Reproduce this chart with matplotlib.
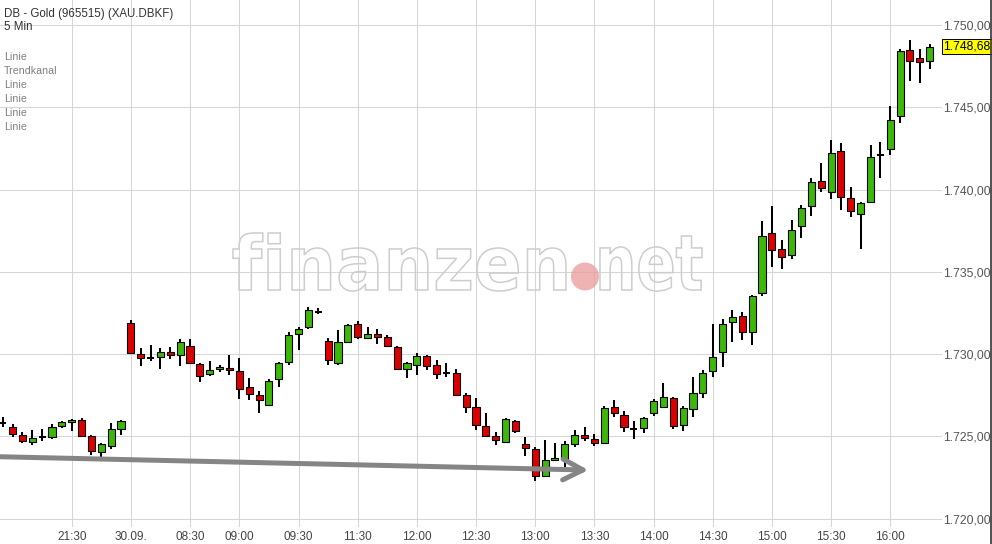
import numpy as np
import matplotlib
matplotlib.use("Agg")
import matplotlib.pyplot as plt
from matplotlib.ticker import MultipleLocator, FuncFormatter
from matplotlib.textpath import TextPath
from matplotlib.font_manager import FontProperties
from matplotlib.patches import PathPatch, Circle
from matplotlib.transforms import Affine2D, IdentityTransform, blended_transform_factory

plt.rcParams['font.family'] = ['Liberation Sans', 'DejaVu Sans']

# Kerzen (5 Min)
opens = [1725.79, 1725.55, 1725.06, 1724.63, 1724.98, 1724.94, 1725.64, 1725.85, 1725.99, 1725.00,
         1724.03, 1724.39, 1725.43, 1731.89, 1730.00, 1729.78, 1729.80, 1730.11, 1729.92, 1730.47,
         1729.38, 1728.77, 1729.07, 1729.13, 1728.95, 1727.98, 1727.49, 1726.92, 1728.47, 1729.50,
         1731.20, 1731.63, 1732.56, 1730.78, 1729.44, 1730.73, 1731.81, 1730.96, 1731.20, 1731.02,
         1730.41, 1729.07, 1729.32, 1729.86, 1729.32, 1728.83, 1728.83, 1727.49, 1726.76, 1725.64,
         1725.00, 1724.67, 1725.93, 1724.51, 1724.23, 1722.59, 1723.56, 1723.62, 1724.53, 1725.06,
         1724.84, 1724.61, 1726.76, 1726.28, 1725.46, 1725.49, 1726.40, 1726.76, 1727.31, 1725.67,
         1726.64, 1727.61, 1728.97, 1730.11, 1731.93, 1732.29, 1731.32, 1733.69, 1737.34, 1736.37,
         1736.00, 1737.77, 1739.00, 1740.50, 1739.83, 1742.33, 1739.47, 1738.51, 1739.26, 1742.10,
         1742.47, 1744.45, 1748.47, 1747.98, 1747.80]
highs = [1726.15, 1725.73, 1725.24, 1725.38, 1725.44, 1725.73, 1725.95, 1726.05, 1726.11, 1725.10,
         1724.61, 1725.79, 1725.99, 1732.07, 1730.35, 1730.55, 1730.35, 1730.43, 1730.91, 1730.91,
         1729.44, 1729.56, 1729.32, 1729.92, 1729.74, 1728.53, 1727.74, 1728.47, 1729.52, 1731.34,
         1731.63, 1732.84, 1732.78, 1730.96, 1731.44, 1731.85, 1731.99, 1731.64, 1731.52, 1731.14,
         1730.47, 1729.53, 1730.05, 1729.92, 1729.62, 1729.44, 1729.07, 1727.61, 1727.31, 1726.40,
         1725.28, 1726.09, 1725.99, 1724.94, 1724.33, 1724.78, 1724.57, 1724.70, 1725.36, 1725.55,
         1725.12, 1726.84, 1727.19, 1726.56, 1725.95, 1726.19, 1727.27, 1728.22, 1727.37, 1726.82,
         1728.59, 1729.03, 1731.81, 1732.11, 1732.68, 1732.54, 1733.59, 1738.07, 1739.00, 1736.91,
         1738.13, 1739.04, 1740.68, 1741.60, 1743.01, 1742.81, 1740.16, 1739.22, 1742.69, 1742.87,
         1745.06, 1748.54, 1749.07, 1748.53, 1748.83]
lows = [1725.55, 1724.98, 1724.61, 1724.49, 1724.70, 1724.85, 1725.52, 1725.34, 1725.02, 1723.88,
        1723.74, 1724.21, 1725.10, 1729.98, 1729.29, 1729.60, 1729.07, 1729.72, 1729.29, 1729.38,
        1728.32, 1728.68, 1728.89, 1728.71, 1727.29, 1727.22, 1726.40, 1726.88, 1727.98, 1729.32,
        1730.26, 1731.50, 1732.43, 1729.35, 1729.32, 1730.65, 1730.90, 1730.90, 1730.59, 1730.41,
        1729.01, 1728.53, 1728.71, 1729.01, 1728.47, 1728.59, 1727.45, 1726.40, 1725.38, 1724.98,
        1724.45, 1724.61, 1725.18, 1723.80, 1722.26, 1722.54, 1723.56, 1723.15, 1724.33, 1724.71,
        1724.41, 1724.57, 1726.19, 1725.24, 1724.84, 1725.18, 1726.22, 1726.70, 1725.44, 1725.32,
        1726.19, 1727.33, 1728.62, 1729.23, 1730.71, 1730.85, 1730.53, 1733.51, 1735.31, 1735.15,
        1735.80, 1737.04, 1738.37, 1739.87, 1739.41, 1738.74, 1738.31, 1736.39, 1739.22, 1740.70,
        1742.08, 1744.03, 1746.62, 1746.46, 1747.31]
closes = [1725.79, 1725.12, 1724.70, 1724.88, 1724.98, 1725.55, 1725.85, 1725.97, 1725.04, 1724.09,
          1724.51, 1725.44, 1725.93, 1730.05, 1729.74, 1729.78, 1730.11, 1729.92, 1730.71, 1729.44,
          1728.65, 1729.01, 1729.19, 1729.01, 1727.89, 1727.55, 1727.19, 1728.36, 1729.44, 1731.14,
          1731.50, 1732.66, 1732.56, 1729.62, 1730.71, 1731.77, 1731.02, 1731.20, 1731.02, 1730.47,
          1729.07, 1729.44, 1729.86, 1729.26, 1728.77, 1728.83, 1727.53, 1726.76, 1725.67, 1725.04,
          1724.77, 1726.03, 1725.30, 1724.27, 1722.59, 1723.54, 1723.68, 1724.51, 1725.06, 1724.90,
          1724.59, 1726.70, 1726.40, 1725.57, 1725.46, 1726.09, 1727.13, 1727.41, 1725.63, 1726.70,
          1727.65, 1728.87, 1729.84, 1731.81, 1732.23, 1731.32, 1733.53, 1737.16, 1736.31, 1735.88,
          1737.52, 1738.86, 1740.44, 1740.11, 1742.20, 1739.53, 1738.68, 1739.18, 1741.96, 1742.10,
          1744.21, 1748.40, 1747.80, 1747.74, 1748.68]

tick_idx = [7, 13, 19, 24, 30, 36, 42, 48, 54, 60, 66, 72, 78, 84, 90]
tick_labels = ["21:30", "30.09.", "08:30", "09:00", "09:30", "11:30", "12:00", "12:30",
               "13:00", "13:30", "14:00", "14:30", "15:00", "15:30", "16:00"]

# Trendlinie (eingezeichnet)
trend_x = [-0.27, 59.4]
trend_y = [1723.76, 1722.95]

legend_items = ["Linie", "Trendkanal", "Linie", "Linie", "Linie", "Linie"]

GREEN = '#3cb80a'
RED = '#dc0000'


def de_fmt(v):
    return f"{v:,.2f}".replace(",", "X").replace(".", ",").replace("X", ".")


o = np.array(opens)
h = np.array(highs)
l = np.array(lows)
c = np.array(closes)
x = np.arange(len(o))

fig = plt.figure(figsize=(9.92, 5.44), dpi=100)
ax = fig.add_axes([0, 17 / 544, 942 / 992, 527 / 544])

ax.set_xlim(-0.27, 95.25)
ax.set_ylim(1719.49, 1751.52)

# Dochte
ax.vlines(x, l, h, color='black', lw=1.45, zorder=3)

doji = np.isclose(o, c)
up = (c > o) & ~doji
down = (c < o) & ~doji
ax.bar(x[up], (c - o)[up], bottom=o[up], width=0.72, color=GREEN,
       edgecolor='black', linewidth=0.8, zorder=4)
ax.bar(x[down], (o - c)[down], bottom=c[down], width=0.72, color=RED,
       edgecolor='black', linewidth=0.8, zorder=4)
ax.hlines(o[doji], x[doji] - 0.36, x[doji] + 0.36, color='black', lw=1.45, zorder=4)

# Trendlinie mit Pfeil
ax.annotate('', xy=(trend_x[1], trend_y[1]), xytext=(trend_x[0], trend_y[0]),
            arrowprops=dict(arrowstyle='->,head_length=1.45,head_width=0.75',
                            color='#858585', lw=3.6, shrinkA=0, shrinkB=0,
                            capstyle='round'), zorder=5)

# Achsen
ax.set_axisbelow(True)
ax.yaxis.set_major_locator(MultipleLocator(5))
ax.yaxis.tick_right()
ax.yaxis.set_major_formatter(FuncFormatter(lambda v, _: de_fmt(v)))
ax.set_xticks(tick_idx)
ax.set_xticklabels(tick_labels)
ax.tick_params(axis='y', length=0, pad=1, labelsize=8.7, labelcolor='#555555')
ax.tick_params(axis='x', length=0, pad=3, labelsize=8.5, labelcolor='#444444')
ax.grid(True, color='#d6d6d6', lw=0.75)
for s in ax.spines.values():
    s.set_visible(False)

# letzter Kurs
last_tf = blended_transform_factory(ax.transAxes, ax.transData)
ax.text(1.0015, closes[-1], de_fmt(closes[-1]), transform=last_tf, ha='left', va='center',
        fontsize=8.7, color='black', zorder=6,
        bbox=dict(boxstyle='square,pad=0.12', fc='#ffff00', ec='black', lw=0.7))

# Titel und Legende
fig.text(4 / 992, 1 - 14 / 544, "DB - Gold (965515) (XAU.DBKF)", fontsize=8.3, color='#333333',
         ha='left', va='center')
fig.text(4 / 992, 1 - 27.5 / 544, "5 Min", fontsize=8.3, color='#333333', ha='left', va='center')
for k, name in enumerate(legend_items):
    fig.text(4 / 992, 1 - (57.5 + 14 * k) / 544, name, fontsize=7.7, color='#808080',
             ha='left', va='center')

# Wasserzeichen
fp = FontProperties(family='DejaVu Sans', weight='bold')


def outline_word(word, left, right, base, top):
    tp = TextPath((0, 0), word, size=1, prop=fp)
    bb = tp.get_extents()
    sx = (right - left) / bb.width
    sy = (top - base) / bb.y1
    tr = Affine2D().translate(-bb.x0, 0).scale(sx, sy).translate(left, base)
    patch = PathPatch(tr.transform_path(tp), facecolor='none', edgecolor='#cdcdcd',
                      lw=1.1, transform=IdentityTransform(), zorder=1)
    fig.add_artist(patch)


outline_word("finanzen", 233, 566, 544 - 290, 544 - 233)
outline_word("net", 600, 702, 544 - 290, 544 - 236)
fig.add_artist(Circle((585, 544 - 276.5), 14, facecolor='#eb9a9a', alpha=0.75,
                      edgecolor='none', transform=IdentityTransform(), zorder=1))

# rechter Rand
fig.add_artist(plt.Line2D([990.5 / 992, 990.5 / 992], [0, 1], color='#333333', lw=1.2,
                          transform=fig.transFigure))

fig.savefig('out.png', dpi=100)
